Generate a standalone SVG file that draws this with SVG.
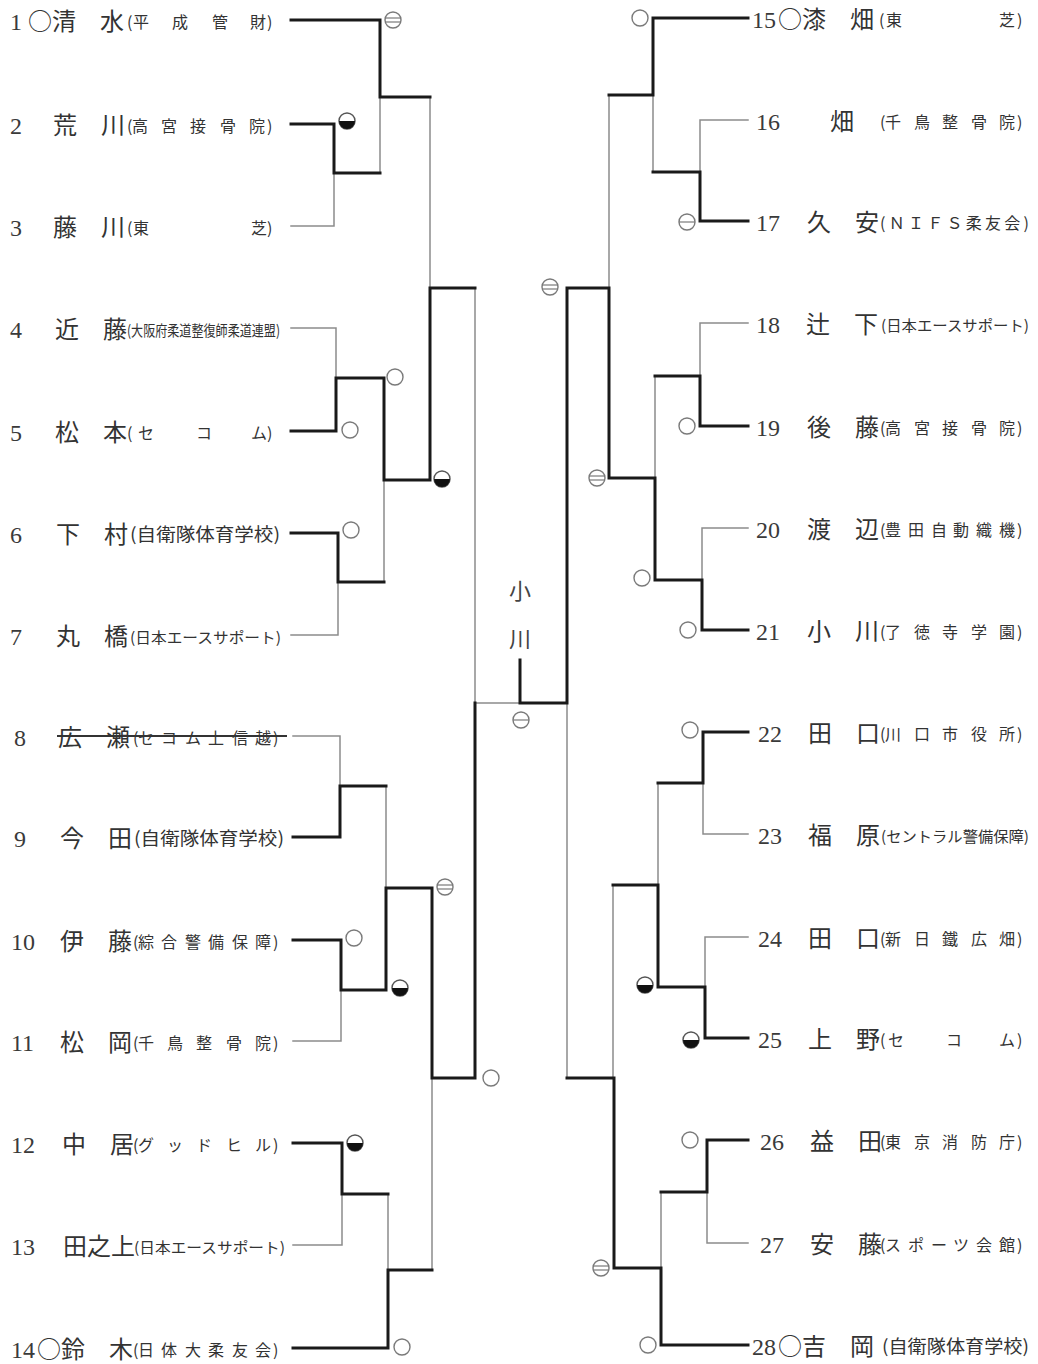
<svg xmlns="http://www.w3.org/2000/svg" width="1038" height="1364" viewBox="0 0 1038 1364">
<style>
.num{font-family:"Liberation Serif",serif;font-size:24px;fill:#3a3a3a}
.nm{font-family:"Noto Sans CJK JP",sans-serif;font-size:24px;fill:#333}
.af{font-family:"Noto Sans CJK JP",sans-serif;font-size:16px;fill:#333}
.af15{font-family:"Noto Sans CJK JP",sans-serif;font-size:15px;fill:#333}
.af18{font-family:"Noto Sans CJK JP",sans-serif;font-size:18px;fill:#333}
.w{fill:none;stroke:#1a1a1a;stroke-width:3;stroke-linecap:square;stroke-linejoin:miter}
.n{fill:none;stroke:#8c8c8c;stroke-width:1.5;stroke-linecap:square}
.mk{fill:#fff;stroke:#7a7a7a;stroke-width:1.4}
.mkl{stroke:#7a7a7a;stroke-width:1.2}
.ttl{font-family:"Noto Sans CJK JP",sans-serif;font-size:22px;fill:#444;text-anchor:middle}
</style>
<defs>
<g id="mo"><circle class="mk" r="8"/></g>
<g id="m1"><circle class="mk" r="8"/><line class="mkl" x1="-8" y1="0" x2="8" y2="0"/></g>
<g id="m2"><circle class="mk" r="8"/><line class="mkl" x1="-7.5" y1="-2" x2="7.5" y2="-2"/><line class="mkl" x1="-7.5" y1="2" x2="7.5" y2="2"/></g>
<g id="mh"><circle class="mk" r="8" style="stroke:#555"/><path d="M-8,0 A8,8 0 0 0 8,0 Z" fill="#111"/></g>
</defs>
<rect width="1038" height="1364" fill="#fff"/>

<g id="connectors">
<path class="n" d="M380,97 V173 M291,226 H334 V173 M291,328 H336 V378 M384,480 V582 M291,635 H338 V582 M430,97 V288 M475,288 V703 H520 M293,736 H340 V786 M386,786 V888 M293,1041 H341 V990 M293,1245 H342 V1194 M388,1194 V1270 M432,1078 V1270"/>
<path class="n" d="M567,703 V1078 M609,95 V288 M653,95 V172 M748,120 H700 V172 M748,323 H700 V376 M655,376 V478 M748,528 H702 V580 M703,783 V834 H748 M658,783 V885 M748,937 H705 V987 M613,885 V1078 M707,1192 V1243 H748 M661,1192 V1268"/>
<path class="w" d="M291,20 H380 V97 H430 M291,124 H334 V173 H380 M291,431 H336 V378 H384 V480 H430 M291,533 H338 V582 H384 M430,480 V288 H475"/>
<path class="w" d="M293,837 H340 V786 H386 M293,940 H341 V990 H386 V888 H432 V1078 H475 V703 M293,1143 H342 V1194 H388 M293,1348 H388 V1270 H432"/>
<path class="w" d="M520,660 V703 H567 V288 H609 V478 H655 V580 H702 V630 H748"/>
<path class="w" d="M748,18 H653 V95 H609 M748,221 H700 V172 H653 M748,426 H700 V376 H655 M748,732 H703 V783 H658 M748,1038 H705 V987 H658 V885 H613 M748,1140 H707 V1192 H661 M748,1345 H661 V1268 H614 V1078 H567"/>
</g>

<g id="marks">
<use href="#m2" x="393" y="20"/>
<use href="#mh" x="347" y="121"/>
<use href="#mo" x="395" y="377"/>
<use href="#mo" x="350" y="430"/>
<use href="#mo" x="351" y="530"/>
<use href="#mh" x="442" y="479"/>
<use href="#m2" x="445" y="887"/>
<use href="#mo" x="354" y="938"/>
<use href="#mh" x="400" y="988"/>
<use href="#mh" x="355" y="1143"/>
<use href="#mo" x="402" y="1347"/>
<use href="#mo" x="491" y="1078"/>
<use href="#m1" x="521" y="720"/>
<use href="#m2" x="550" y="287"/>
<use href="#m2" x="597" y="478"/>
<use href="#m2" x="601" y="1268"/>
<use href="#mo" x="640" y="18"/>
<use href="#m1" x="687" y="222"/>
<use href="#mo" x="687" y="426"/>
<use href="#mo" x="642" y="578"/>
<use href="#mo" x="688" y="630"/>
<use href="#mo" x="690" y="730"/>
<use href="#mh" x="645" y="985"/>
<use href="#mh" x="691" y="1040"/>
<use href="#mo" x="690" y="1140"/>
<use href="#mo" x="648" y="1345"/>
</g>

<g id="champion">
<text class="ttl" x="520" y="599">小</text>
<text class="ttl" x="520" y="647">川</text>
</g>

<g id="p1"><text class="num" x="10" y="30">1</text><text class="nm" x="28" y="30">○清　水</text><text class="af" x="127 133 172 212 250 267" y="28">(平成管財)</text></g>
<g id="p2"><text class="num" x="10" y="134">2</text><text class="nm" x="53" y="134">荒　川</text><text class="af" x="127 132 161 190 220 249 267" y="132">(高宮接骨院)</text></g>
<g id="p3"><text class="num" x="10" y="236">3</text><text class="nm" x="53" y="236">藤　川</text><text class="af" x="127 133 251 267" y="234">(東芝)</text></g>
<g id="p4"><text class="num" x="10" y="338">4</text><text class="nm" x="55" y="338">近　藤</text><text class="af15" x="127" y="336" textLength="153" lengthAdjust="spacingAndGlyphs">(大阪府柔道整復師柔道連盟)</text></g>
<g id="p5"><text class="num" x="10" y="441">5</text><text class="nm" x="55" y="441">松　本</text><text class="af" x="127 138 196 251 267" y="439">(セコム)</text></g>
<g id="p6"><text class="num" x="10" y="543">6</text><text class="nm" x="56" y="543">下　村</text><text class="af18" x="130" y="541" textLength="150" lengthAdjust="spacingAndGlyphs">(自衛隊体育学校)</text></g>
<g id="p7"><text class="num" x="10" y="645">7</text><text class="nm" x="56" y="645">丸　橋</text><text class="af15" x="130" y="643" textLength="151" lengthAdjust="spacingAndGlyphs">(日本エースサポート)</text></g>
<g id="p8"><text class="num" x="14" y="746">8</text><text class="nm" x="58" y="746">広　瀬</text><text class="af" x="133 138 161 185 208 232 255 273" y="744">(セコム上信越)</text><line x1="57" y1="736" x2="287" y2="736" stroke="#333" stroke-width="2.2"/></g>
<g id="p9"><text class="num" x="14" y="847">9</text><text class="nm" x="60" y="847">今　田</text><text class="af18" x="134" y="845" textLength="150" lengthAdjust="spacingAndGlyphs">(自衛隊体育学校)</text></g>
<g id="p10"><text class="num" x="11" y="950">10</text><text class="nm" x="60" y="950">伊　藤</text><text class="af" x="133 138 161 185 208 232 255 273" y="948">(綜合警備保障)</text></g>
<g id="p11"><text class="num" x="11" y="1051">11</text><text class="nm" x="60" y="1051">松　岡</text><text class="af" x="133 138 167 196 226 255 273" y="1049">(千鳥整骨院)</text></g>
<g id="p12"><text class="num" x="11" y="1153">12</text><text class="nm" x="62" y="1153">中　居</text><text class="af" x="133 138 167 196 226 255 273" y="1151">(グッドヒル)</text></g>
<g id="p13"><text class="num" x="11" y="1255">13</text><text class="nm" x="63" y="1255">田之上</text><text class="af15" x="134" y="1253" textLength="151" lengthAdjust="spacingAndGlyphs">(日本エースサポート)</text></g>
<g id="p14"><text class="num" x="11" y="1358">14</text><text class="nm" x="37" y="1358">○鈴　木</text><text class="af" x="133 138 161 185 208 232 255 273" y="1356">(日体大柔友会)</text></g>

<g id="p15"><text class="num" x="752" y="28">15</text><text class="nm" x="778" y="28">○漆　畑</text><text class="af" x="879 886 999 1017" y="26">(東芝)</text></g>
<g id="p16"><text class="num" x="756" y="130">16</text><text class="nm" x="830" y="130">畑</text><text class="af" x="880 885 914 942 971 999 1017" y="128">(千鳥整骨院)</text></g>
<g id="p17"><text class="num" x="756" y="231">17</text><text class="nm" x="807" y="231">久　安</text><text class="af" x="880" y="229" textLength="149" lengthAdjust="spacing">(ＮＩＦＳ柔友会)</text></g>
<g id="p18"><text class="num" x="756" y="333">18</text><text class="nm" x="806" y="333">辻　下</text><text class="af15" x="881" y="331" textLength="148" lengthAdjust="spacingAndGlyphs">(日本エースサポート)</text></g>
<g id="p19"><text class="num" x="756" y="436">19</text><text class="nm" x="807" y="436">後　藤</text><text class="af" x="880 885 914 942 971 999 1017" y="434">(高宮接骨院)</text></g>
<g id="p20"><text class="num" x="756" y="538">20</text><text class="nm" x="807" y="538">渡　辺</text><text class="af" x="880 885 908 931 953 976 999 1017" y="536">(豊田自動織機)</text></g>
<g id="p21"><text class="num" x="756" y="640">21</text><text class="nm" x="807" y="640">小　川</text><text class="af" x="880 885 914 942 971 999 1017" y="638">(了徳寺学園)</text></g>
<g id="p22"><text class="num" x="758" y="742">22</text><text class="nm" x="808" y="742">田　口</text><text class="af" x="880 885 914 942 971 999 1017" y="740">(川口市役所)</text></g>
<g id="p23"><text class="num" x="758" y="844">23</text><text class="nm" x="808" y="844">福　原</text><text class="af15" x="881" y="842" textLength="148" lengthAdjust="spacingAndGlyphs">(セントラル警備保障)</text></g>
<g id="p24"><text class="num" x="758" y="947">24</text><text class="nm" x="808" y="947">田　口</text><text class="af" x="880 885 914 942 971 999 1017" y="945">(新日鐵広畑)</text></g>
<g id="p25"><text class="num" x="758" y="1048">25</text><text class="nm" x="808" y="1048">上　野</text><text class="af" x="880 888 946 999 1017" y="1046">(セコム)</text></g>
<g id="p26"><text class="num" x="760" y="1150">26</text><text class="nm" x="810" y="1150">益　田</text><text class="af" x="880 885 914 942 971 999 1017" y="1148">(東京消防庁)</text></g>
<g id="p27"><text class="num" x="760" y="1253">27</text><text class="nm" x="810" y="1253">安　藤</text><text class="af" x="880 885 908 931 953 976 999 1017" y="1251">(スポーツ会館)</text></g>
<g id="p28"><text class="num" x="752" y="1355">28</text><text class="nm" x="778" y="1355">○吉　岡</text><text class="af18" x="882" y="1353" textLength="147" lengthAdjust="spacingAndGlyphs">(自衛隊体育学校)</text></g>
</svg>
